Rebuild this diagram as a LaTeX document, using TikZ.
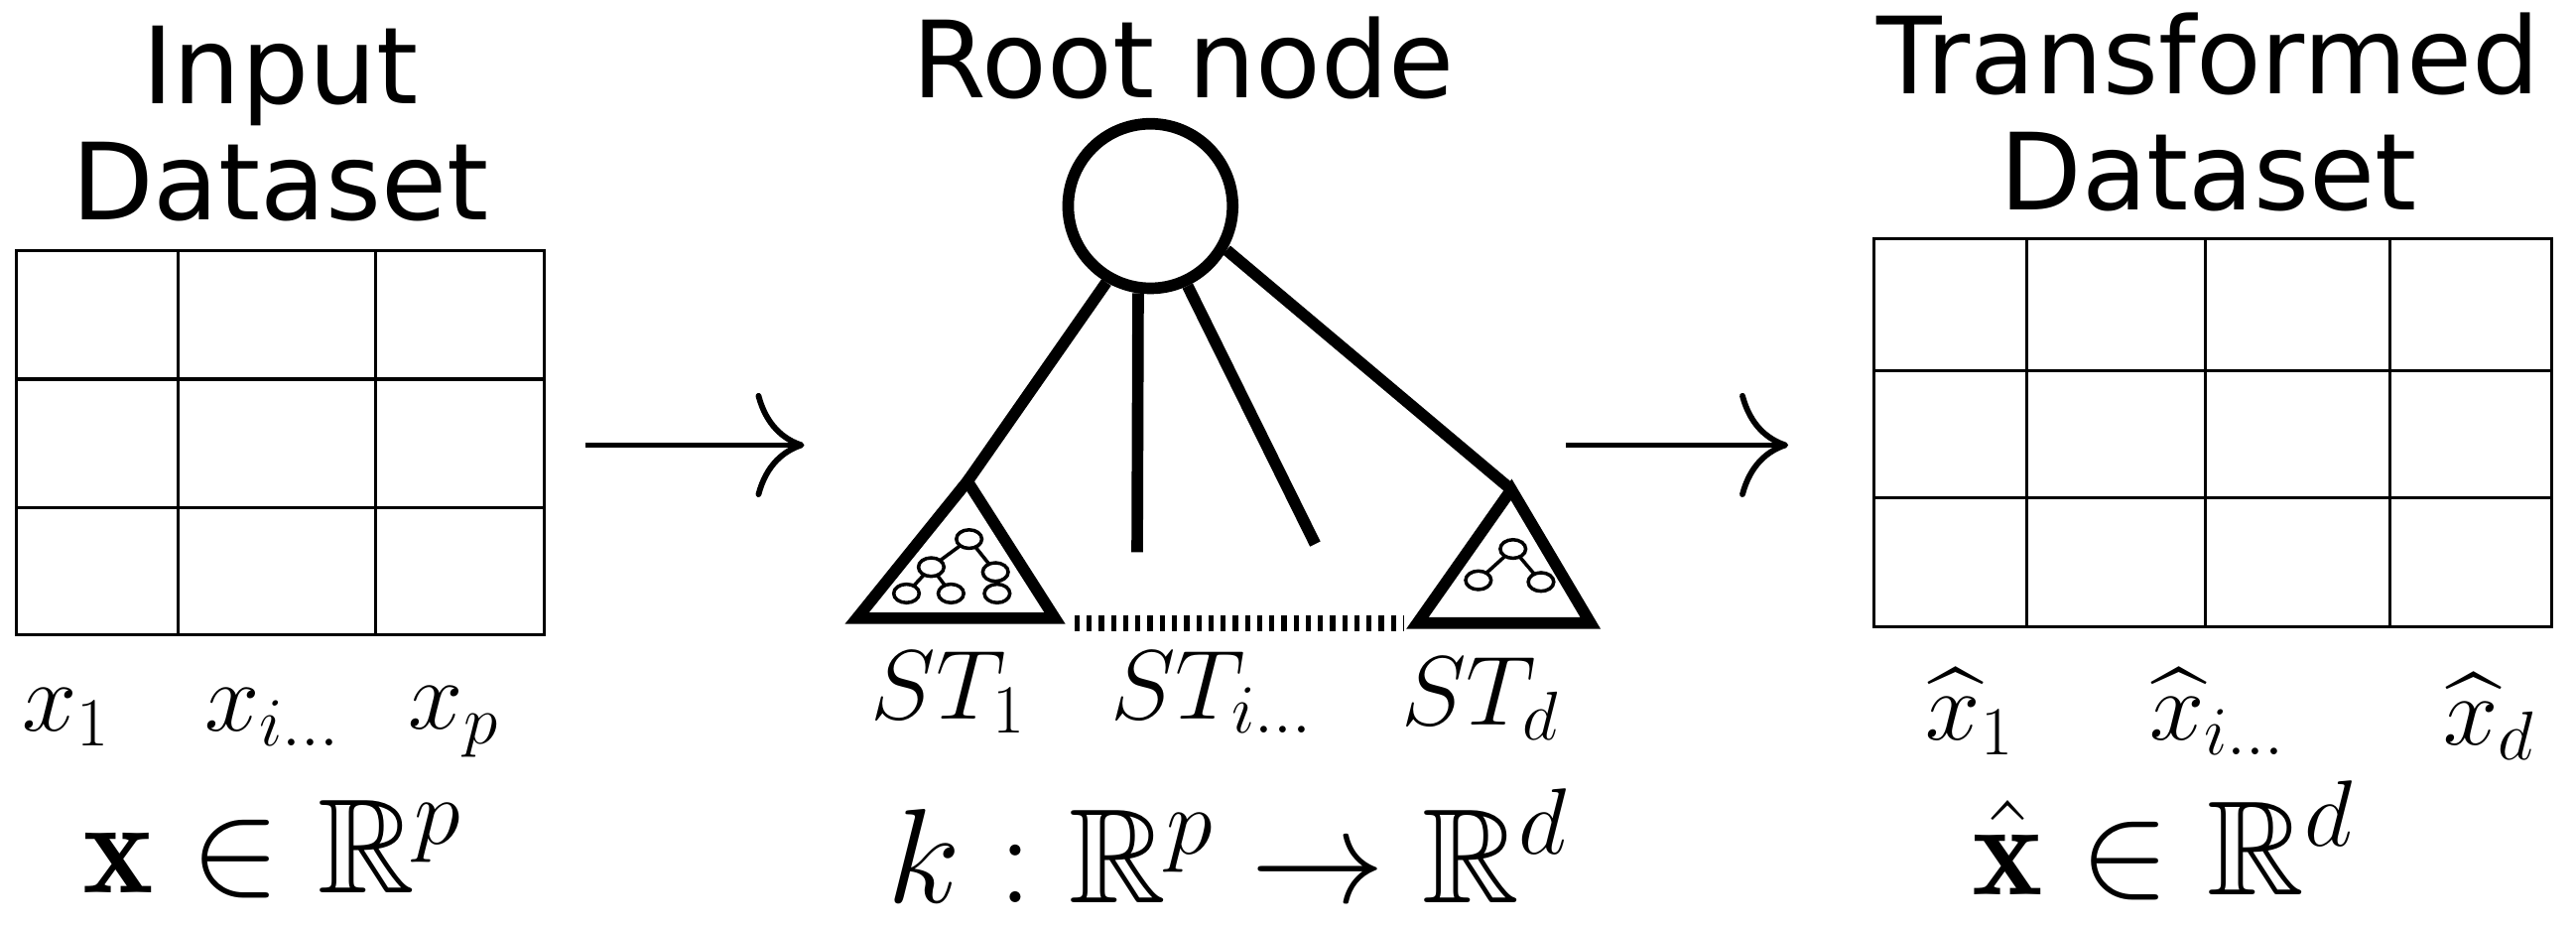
\RequirePackage{fix-cm}
\documentclass[tikz,border=0pt]{standalone}
\usepackage{amssymb,amsmath}
\usepackage{fontspec}
\newfontfamily\ttl{DejaVu Sans}
\usetikzlibrary{arrows.meta,shapes.geometric}
\begin{document}
\begin{tikzpicture}[x=0.05cm,y=-0.05cm,
  title/.style={font=\ttl\fontsize{92}{100}\selectfont,inner sep=0,align=center},
  mlab/.style={font=\fontsize{85}{90}\selectfont,inner sep=0},
  blab/.style={font=\fontsize{116}{120}\selectfont,inner sep=0},
  grid/.style={line width=2.6pt},
  thick7/.style={line width=10pt},
  bigarr/.style={line width=5pt,-{Computer Modern Rightarrow[length=42pt,width=90pt,line width=5pt]}},
  tn/.style={draw,line width=3pt,ellipse,minimum width=22pt,minimum height=16pt,inner sep=0,fill=white}]
\useasboundingbox (0,0) rectangle (1563,564);
\fill[white] (0,0) rectangle (1563,564);
% left table
\draw[grid] (10,152) rectangle (330,385);
\draw[grid] (108,152)--(108,385) (228,152)--(228,385) (10,230)--(330,230) (10,308)--(330,308);
\node[title] (t1) at (170,75) {Input\\Dataset};
\node[mlab] (x1) at (40,435) {$x_1$};
\node[mlab] (xi) at (165,435) {$x_{i\ldots}$};
\node[mlab] (xp) at (275,438) {$x_p$};
\node[blab] (X) at (165,515) {$\mathbf{x}\in\mathbb{R}^p$};
% arrows
\coordinate (a1s) at (355,270); \coordinate (a1e) at (488,270);
\draw[bigarr] (a1s)--(a1e);
\coordinate (a2s) at (950,270); \coordinate (a2e) at (1085,270);
\draw[bigarr] (a2s)--(a2e);
% root
\node[title] (rt) at (718,35) {Root node};
\node[draw,circle,line width=10pt,minimum size=142pt] (root) at (698,125) {};
\coordinate (lt) at (587,292);
\coordinate (rtp) at (917,297);
\coordinate (v1) at (690,335);
\coordinate (v2) at (798,330);
\draw[thick7] (root.240) -- (lt);
\draw[thick7] (root.262) -- (v1);
\draw[thick7] (root.295) -- (v2);
\draw[thick7] (root.330) -- (rtp);
\draw[thick7,line join=miter] (lt) -- (640,375) -- (520,375) -- cycle;
\draw[thick7,line join=miter] (rtp) -- (965,378) -- (860,378) -- cycle;
\draw[line width=14pt,dash pattern=on 4.5pt off 6pt] (652,378)--(852,378);
% small tree left
\coordinate (a) at (588,327);
\coordinate (b) at (565,344);
\coordinate (c) at (604,347);
\coordinate (d) at (550,360);
\coordinate (e) at (577,360);
\coordinate (f) at (605,360);
\draw[line width=3pt] (a)--(b) (a)--(c) (b)--(d) (b)--(e) (c)--(f);
\foreach \p in {a,b,c,d,e,f} \node[tn] (n\p) at (\p) {};
% small tree right
\coordinate (g) at (918,333);
\coordinate (h) at (897,352);
\coordinate (i) at (935,353);
\draw[line width=3pt] (g)--(h) (g)--(i);
\foreach \p in {g,h,i} \node[tn] (n\p) at (\p) {};
\node[mlab] (s1) at (575,420) {$ST_1$};
\node[mlab] (si) at (735,420) {$ST_{i\ldots}$};
\node[mlab] (sd) at (898,424) {$ST_d$};
\node[blab] (k) at (745,513) {$k:\mathbb{R}^p\rightarrow\mathbb{R}^d$};
% right table
\node[title] (t2) at (1340,68) {Transformed\\Dataset};
\draw[grid] (1137,145) rectangle (1548,380);
\draw[grid] (1230,145)--(1230,380) (1338,145)--(1338,380) (1450,145)--(1450,380) (1137,225)--(1548,225) (1137,302)--(1548,302);
\node[mlab] (h1) at (1195,432) {$\widehat{x}_1$};
\node[mlab] (hi) at (1345,432) {$\widehat{x}_{i\ldots}$};
\node[mlab] (hd) at (1510,435) {$\widehat{x}_d$};
\node[blab] (XH) at (1312,510) {$\hat{\mathbf{x}}\in\mathbb{R}^d$};
\end{tikzpicture}
\end{document}
